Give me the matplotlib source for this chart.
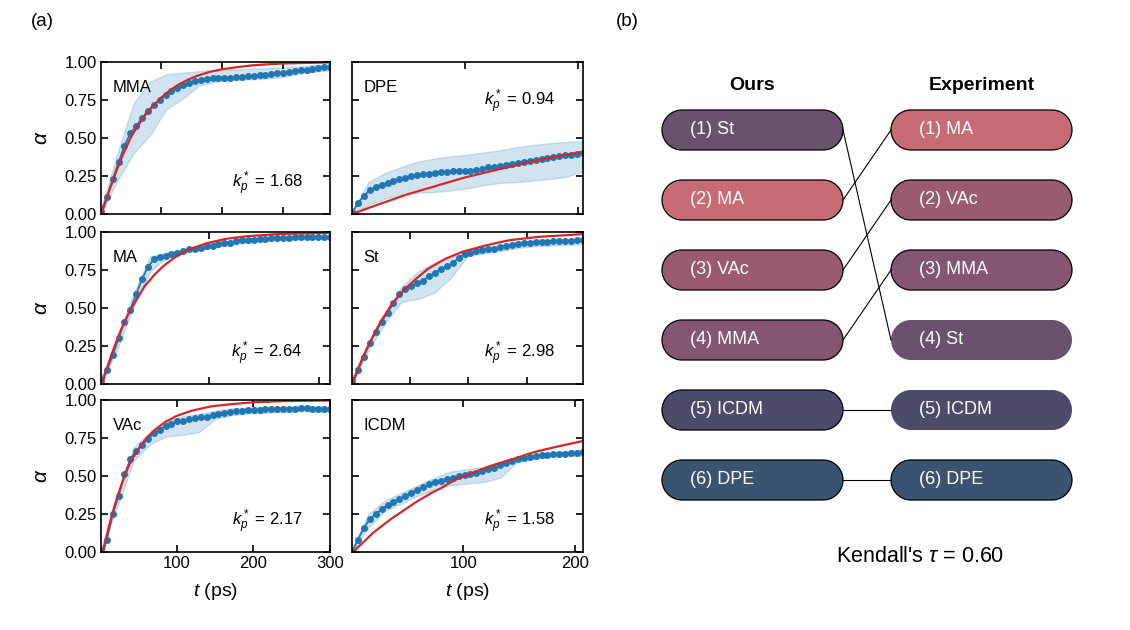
import numpy as np
import matplotlib.pyplot as plt
from matplotlib.patches import Polygon
from matplotlib.ticker import MultipleLocator

plt.rcParams['font.family'] = ['Liberation Sans', 'DejaVu Sans']
plt.rcParams['mathtext.fontset'] = 'custom'
plt.rcParams['mathtext.rm'] = 'Liberation Sans'
plt.rcParams['mathtext.it'] = 'Liberation Sans:italic'

# ========================
# DATA (a): conversion curves
# ========================

# simulation time span of each run (ps)
mma_span = (1, 378)
dpe_span = (1, 204)
ma_span = (1, 210)
st_span = (1, 396)
vac_span = (1.5, 300)
icdm_span = (0.5, 207)

mma_alpha = [0.02, 0.11, 0.23, 0.34, 0.45, 0.53, 0.58, 0.63, 0.68, 0.72,
             0.75, 0.78, 0.81, 0.83, 0.85, 0.86, 0.875, 0.88, 0.89, 0.893,
             0.895, 0.897, 0.898, 0.90, 0.903, 0.906, 0.908, 0.912, 0.917, 0.92,
             0.925, 0.93, 0.935, 0.94, 0.947, 0.95, 0.955, 0.96, 0.965, 0.97]
mma_hi = [0.03, 0.40, 0.73, 0.87, 0.92, 0.93, 0.94, 0.945, 0.95, 0.955,
          0.96, 0.965, 0.97, 0.98, 0.985]
mma_lo = [0.0, 0.22, 0.40, 0.52, 0.69, 0.76, 0.845, 0.87, 0.88, 0.885,
          0.89, 0.90, 0.92, 0.935, 0.945]
mma_fit_t = [1, 3, 5, 8, 12, 16, 20, 25, 30, 37, 45, 52, 60, 70, 80, 90, 100,
             115, 130, 145, 160, 180, 200, 225, 250, 275, 300, 340, 378]
mma_fit = [0, 0.02, 0.04, 0.075, 0.125, 0.17, 0.21, 0.27, 0.32, 0.39, 0.46,
           0.52, 0.57, 0.63, 0.68, 0.725, 0.765, 0.815, 0.855, 0.885, 0.91,
           0.935, 0.952, 0.966, 0.978, 0.985, 0.99, 0.994, 0.997]

dpe_alpha = [0.01, 0.07, 0.12, 0.155, 0.175, 0.19, 0.205, 0.22, 0.23, 0.24,
             0.25, 0.255, 0.26, 0.265, 0.27, 0.275, 0.278, 0.28, 0.28, 0.282,
             0.285, 0.29, 0.295, 0.31, 0.31, 0.315, 0.325, 0.33, 0.335, 0.345,
             0.35, 0.355, 0.36, 0.37, 0.375, 0.38, 0.385, 0.39, 0.395, 0.40]
dpe_hi = [0.01, 0.21, 0.27, 0.31, 0.345, 0.365, 0.38, 0.39, 0.405, 0.42,
          0.44, 0.455, 0.465, 0.475, 0.48]
dpe_lo = [0.0, 0.06, 0.10, 0.13, 0.14, 0.145, 0.155, 0.17, 0.19, 0.205,
          0.21, 0.22, 0.23, 0.245, 0.28]
dpe_fit_t = [1, 25, 50, 75, 100, 125, 150, 175, 204]
dpe_fit = [0, 0.065, 0.13, 0.185, 0.24, 0.285, 0.33, 0.37, 0.41]

ma_alpha = [0.02, 0.09, 0.19, 0.30, 0.41, 0.49, 0.59, 0.69, 0.77, 0.82,
            0.835, 0.845, 0.855, 0.865, 0.875, 0.885, 0.89, 0.895, 0.905, 0.91,
            0.92, 0.925, 0.93, 0.94, 0.945, 0.948, 0.95, 0.955, 0.955, 0.958,
            0.96, 0.962, 0.963, 0.965, 0.965, 0.967, 0.967, 0.968, 0.968, 0.968]
ma_hi = [0.04, 0.30, 0.60, 0.84, 0.865, 0.885, 0.905, 0.93, 0.945, 0.96,
         0.965, 0.97, 0.975, 0.977, 0.978]
ma_lo = [0.0, 0.23, 0.51, 0.74, 0.83, 0.86, 0.88, 0.90, 0.915, 0.93,
         0.94, 0.945, 0.95, 0.955, 0.955]
ma_fit_t = [2, 5, 10, 15, 20, 26, 33, 41, 50, 57, 65, 72, 85, 97, 115, 134, 160, 180, 210]
ma_fit = [0, 0.07, 0.18, 0.28, 0.37, 0.46, 0.55, 0.645, 0.72, 0.77,
          0.815, 0.85, 0.895, 0.925, 0.955, 0.972, 0.985, 0.99, 0.995]

st_alpha = [0.02, 0.09, 0.18, 0.27, 0.34, 0.41, 0.47, 0.53, 0.59, 0.625,
            0.645, 0.665, 0.68, 0.71, 0.73, 0.755, 0.775, 0.795, 0.83, 0.855,
            0.865, 0.872, 0.88, 0.885, 0.89, 0.90, 0.905, 0.915, 0.92, 0.925,
            0.93, 0.932, 0.935, 0.937, 0.94, 0.94, 0.942, 0.944, 0.945, 0.945]
st_hi = [0.04, 0.28, 0.46, 0.64, 0.74, 0.80, 0.83, 0.88, 0.90, 0.915,
         0.935, 0.945, 0.95, 0.955, 0.96]
st_lo = [0.0, 0.22, 0.40, 0.54, 0.56, 0.60, 0.70, 0.84, 0.86, 0.875,
         0.895, 0.905, 0.91, 0.915, 0.92]
st_fit_t = [2, 10, 20, 35, 50, 70, 90, 110, 130, 160, 190, 230, 270, 320, 396]
st_fit = [0, 0.085, 0.18, 0.30, 0.41, 0.53, 0.62, 0.69, 0.755, 0.823,
          0.87, 0.912, 0.946, 0.968, 0.986]

vac_alpha = [0.0, 0.08, 0.25, 0.37, 0.51, 0.61, 0.665, 0.705, 0.745, 0.78,
             0.805, 0.83, 0.845, 0.86, 0.865, 0.875, 0.88, 0.885, 0.89, 0.90,
             0.91, 0.915, 0.92, 0.925, 0.93, 0.932, 0.934, 0.936, 0.938, 0.94,
             0.942, 0.942, 0.944, 0.944, 0.945, 0.945, 0.944, 0.943, 0.942, 0.94]
vac_hi = [0.02, 0.38, 0.69, 0.79, 0.86, 0.895, 0.91, 0.93, 0.945, 0.95,
          0.955, 0.958, 0.96, 0.96, 0.958]
vac_lo = [0.0, 0.30, 0.60, 0.71, 0.76, 0.77, 0.79, 0.875, 0.90, 0.91,
          0.915, 0.92, 0.925, 0.925, 0.922]
vac_fit_t = [4.5, 10, 15, 22, 30, 38, 45, 52, 60, 72, 85, 100, 120, 145, 170, 200, 240, 300]
vac_fit = [0, 0.13, 0.23, 0.35, 0.47, 0.57, 0.635, 0.69, 0.745, 0.805,
           0.855, 0.895, 0.93, 0.958, 0.972, 0.985, 0.993, 0.997]

icdm_alpha = [0.0, 0.08, 0.16, 0.215, 0.25, 0.28, 0.31, 0.33, 0.35, 0.37,
              0.39, 0.41, 0.43, 0.445, 0.46, 0.47, 0.48, 0.49, 0.50, 0.505,
              0.51, 0.52, 0.53, 0.545, 0.555, 0.57, 0.585, 0.60, 0.61, 0.62,
              0.625, 0.63, 0.635, 0.64, 0.643, 0.645, 0.648, 0.65, 0.652, 0.655]
icdm_hi = [0.02, 0.25, 0.34, 0.39, 0.44, 0.49, 0.53, 0.545, 0.56, 0.59,
           0.625, 0.64, 0.655, 0.665, 0.675]
icdm_lo = [0.0, 0.16, 0.27, 0.32, 0.37, 0.41, 0.44, 0.45, 0.46, 0.49,
           0.59, 0.61, 0.625, 0.63, 0.635]
icdm_fit_t = [1.7, 5, 10, 15, 20, 27, 35, 42, 50, 57, 65, 72, 80, 88, 97,
              106, 115, 122, 130, 139, 148, 156, 165, 175, 185, 196, 207]
icdm_fit = [0, 0.025, 0.06, 0.095, 0.13, 0.17, 0.215, 0.25, 0.29, 0.325,
            0.36, 0.39, 0.42, 0.455, 0.49, 0.515, 0.54, 0.56, 0.58, 0.60,
            0.62, 0.64, 0.66, 0.678, 0.695, 0.713, 0.73]

kp_values = {'MMA': 1.68, 'DPE': 0.94, 'MA': 2.64, 'St': 2.98, 'VAc': 2.17, 'ICDM': 1.58}

# ========================
# DATA (b): rankings
# ========================

ours_rank = ['St', 'MA', 'VAc', 'MMA', 'ICDM', 'DPE']
exp_rank = ['MA', 'VAc', 'MMA', 'St', 'ICDM', 'DPE']
kendall_tau = 0.60

monomer_colors = {
    'St': '#6a526e',
    'MA': '#c86b74',
    'VAc': '#9a5b6e',
    'MMA': '#845670',
    'ICDM': '#4d4b6a',
    'DPE': '#3a5370',
}

# pills drawn without outline in the experiment column
exp_no_edge = ['St', 'ICDM']

# ========================
# FIGURE
# ========================

W, H = 1130, 630
fig = plt.figure(figsize=(W / 100, H / 100), dpi=100)

panels = [
    ('MMA', mma_span, mma_alpha, mma_lo, mma_hi, mma_fit_t, mma_fit),
    ('DPE', dpe_span, dpe_alpha, dpe_lo, dpe_hi, dpe_fit_t, dpe_fit),
    ('MA', ma_span, ma_alpha, ma_lo, ma_hi, ma_fit_t, ma_fit),
    ('St', st_span, st_alpha, st_lo, st_hi, st_fit_t, st_fit),
    ('VAc', vac_span, vac_alpha, vac_lo, vac_hi, vac_fit_t, vac_fit),
    ('ICDM', icdm_span, icdm_alpha, icdm_lo, icdm_hi, icdm_fit_t, icdm_fit),
]

col_left = [101, 352]
col_width = [229, 231]
row_top = [62, 232, 400]
row_height = 152

blue = '#1f77b4'
red = '#d62728'

for i, (name, span, alpha, lo, hi, fit_t, fit) in enumerate(panels):

    row, col = divmod(i, 2)

    ax = fig.add_axes([
        col_left[col] / W,
        1 - (row_top[row] + row_height) / H,
        col_width[col] / W,
        row_height / H
    ])

    t = np.linspace(span[0], span[1], len(alpha))
    tb = np.linspace(span[0], span[1], len(hi))

    ax.fill_between(tb, lo, hi, color=blue, alpha=0.2, lw=1)
    ax.plot(t, alpha, '-o', color=blue, ms=4, lw=1.3)
    ax.plot(fit_t, fit, color=red, lw=1.6)

    ax.set_xlim(span[0], span[1])
    ax.set_ylim(0, 1)

    ax.xaxis.set_major_locator(MultipleLocator(100))
    ax.yaxis.set_major_locator(MultipleLocator(0.25))

    ax.tick_params(direction='in', top=True, right=True, length=5, width=1.2,
                   labelsize=12, pad=3)

    for s in ax.spines.values():
        s.set_linewidth(1.2)

    if col == 0:
        ax.set_yticklabels([f"{v:.2f}" for v in ax.get_yticks()])
        ax.set_ylabel(r'$\alpha$', fontsize=15, labelpad=10)
    else:
        ax.set_yticklabels([])

    if row == 2:
        ax.set_xlabel(r'$t$ (ps)', fontsize=14, labelpad=7)
    else:
        ax.set_xticklabels([])

    ax.text(0.05, 0.83, name, transform=ax.transAxes, fontsize=12,
            ha='left', va='center')

    ky = 0.74 if name == 'DPE' else 0.2
    ax.text(0.88, ky, r'$k_p^*$ = ' + f"{kp_values[name]:.2f}",
            transform=ax.transAxes, fontsize=12, ha='right', va='center')

# ========================
# PANEL (b)
# ========================

axb = fig.add_axes([0, 0, 1, 1])
axb.set_xlim(0, W)
axb.set_ylim(0, H)
axb.axis('off')
axb.patch.set_alpha(0)

pill_x = [662, 891]
pill_w = 181
pill_h = 40
first_y = 130
step_y = 70


def ypix(y):
    # pixel rows are counted from the top of the picture
    return H - y


def pill_outline(x0, yc, w, h):
    # stadium shape: two half circles joined by straight sides
    rad = h / 2
    th = np.linspace(-np.pi / 2, np.pi / 2, 40)
    right = np.column_stack([x0 + w - rad + rad * np.cos(th), yc + rad * np.sin(th)])
    left = np.column_stack([x0 + rad - rad * np.cos(th), yc - rad * np.sin(th)])
    return np.vstack([right, left])


for c, ranking in enumerate([ours_rank, exp_rank]):

    for r, name in enumerate(ranking):

        yc = ypix(first_y + r * step_y)
        edge = 'none' if (c == 1 and name in exp_no_edge) else 'black'

        pill = Polygon(pill_outline(pill_x[c], yc, pill_w, pill_h), closed=True,
                       facecolor=monomer_colors[name], edgecolor=edge, lw=0.9)
        axb.add_patch(pill)

        axb.text(pill_x[c] + 28, yc, f"({r + 1}) {name}", color='white',
                 fontsize=13, ha='left', va='center')

# lines linking each monomer across the two rankings
for r, name in enumerate(ours_rank):
    r2 = exp_rank.index(name)
    axb.plot([pill_x[0] + pill_w, pill_x[1]],
             [ypix(first_y + r * step_y), ypix(first_y + r2 * step_y)],
             color='black', lw=0.8)

axb.text(pill_x[0] + pill_w / 2, ypix(85), 'Ours', fontsize=14, fontweight='bold',
         ha='center', va='center')
axb.text(pill_x[1] + pill_w / 2, ypix(85), 'Experiment', fontsize=14, fontweight='bold',
         ha='center', va='center')

axb.text(920, ypix(556), "Kendall's $\\tau$ = " + f"{kendall_tau:.2f}", fontsize=15.5,
         ha='center', va='center')

axb.text(42, ypix(22), '(a)', fontsize=13.5, ha='center', va='center')
axb.text(627, ypix(22), '(b)', fontsize=13.5, ha='center', va='center')

fig.savefig('out.png', dpi=100)
